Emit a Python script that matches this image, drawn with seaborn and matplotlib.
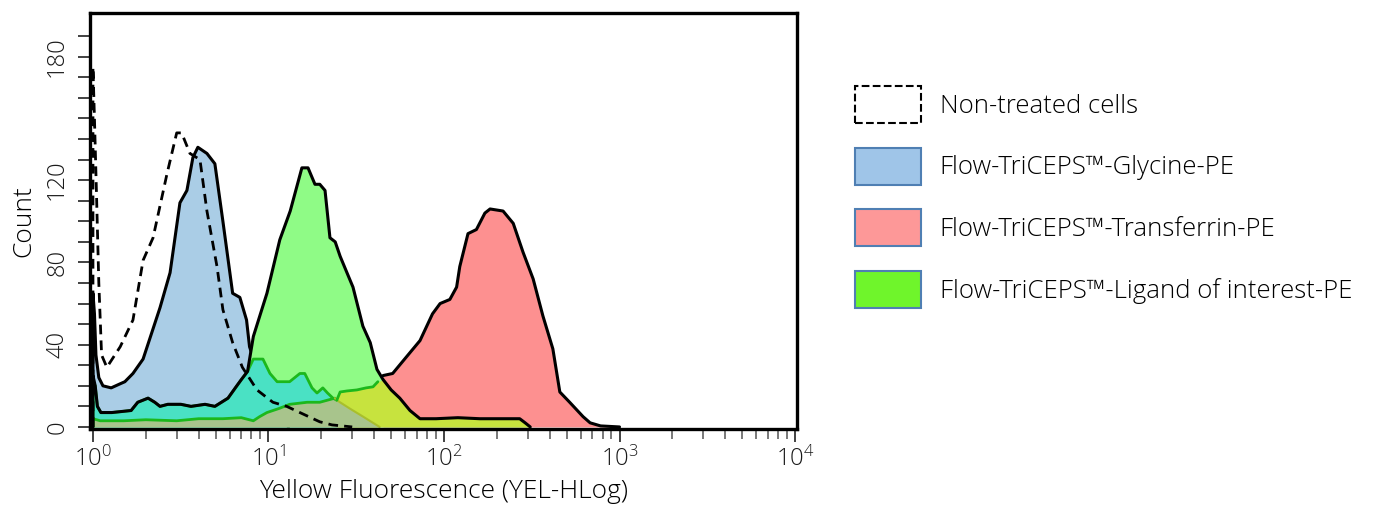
import numpy as np
import matplotlib
matplotlib.use("Agg")
import matplotlib.pyplot as plt
import seaborn as sns
from matplotlib.patches import Patch
from matplotlib.ticker import LogLocator, NullFormatter

# values (x = fluorescence, y = count)
nontreated_x = [1.0, 1.0, 1.02, 1.05, 1.08, 1.12, 1.2, 1.43, 1.69, 1.93, 2.2, 2.64, 3.0, 3.2, 3.57,
                4.07, 4.46, 5.09, 5.5, 6.25, 7.1, 8.6, 10.6, 12.7, 15.1, 19.6, 23, 30]
nontreated_y = [0, 175, 150, 110, 70, 35, 29, 39, 52, 81, 92, 123, 143, 143, 133,
                130, 105, 78, 57, 41, 29, 18, 12, 10, 7, 2.5, 1, 0]

glycine_x = [1.0, 1.0, 1.02, 1.04, 1.08, 1.14, 1.27, 1.43, 1.52, 1.69, 1.93, 2.41, 2.75, 3.13, 3.43,
             3.71, 3.96, 4.46, 4.95, 5.5, 6.25, 6.87, 7.5, 7.8, 8.6, 9.8, 11.5, 13.0]
glycine_y = [0, 65, 55, 35, 24, 20, 19, 21, 22, 26, 33, 58, 75, 109, 115,
             131, 136, 133, 128, 100, 65, 63, 52, 39, 28, 16, 5, 0]

ligand_x = [1.0, 1.0, 1.03, 1.06, 1.11, 1.28, 1.65, 1.80, 2.06, 2.25, 2.41, 2.67, 3.17, 3.62, 4.35,
            4.95, 5.88, 6.6, 7.0, 7.6, 8.2, 9.0, 9.8, 11.6, 13.3, 15.5, 16.8, 18.4, 19.6, 21.0,
            22.4, 24.0, 25.6, 28, 30.3, 34.5, 38, 41.5, 45, 50, 56, 64, 73, 90, 120, 160, 200,
            270, 290, 310]
ligand_y = [0, 25, 20, 10, 7, 7, 8, 12, 14, 12, 10, 11, 11, 10, 11,
            10, 14, 20, 23, 27, 44, 55, 65, 91, 105, 126, 126, 118, 118, 115,
            92, 90, 83, 75, 68, 49, 41, 28, 23, 18, 14, 8, 4, 4, 4.5, 4, 4,
            4, 2, 0]

transferrin_x = [45, 51, 61, 73, 86, 95, 108, 118, 123, 137, 153, 171, 183, 217, 248, 282, 322,
                 366, 417, 457, 520, 620, 680, 780, 1000]
transferrin_y = [25, 26, 34, 42, 55, 60, 62, 68, 78, 94, 96, 104, 106, 105, 99, 85, 72,
                 54, 38, 17, 12, 5, 2, 0.5, 0]

# low-level populations outlined in green
teal_x = [1.0, 1.0, 1.03, 1.06, 1.11, 1.28, 1.65, 1.80, 2.06, 2.25, 2.41, 2.67, 3.17, 3.62, 4.35,
          4.95, 5.88, 6.6, 7.0, 7.6, 8.2, 9.3, 10.2, 11.2, 13.2, 15.1, 16.1, 17.7, 18.9, 20.4,
          21.7, 23.3, 24.5]
teal_y = [0, 22, 20, 10, 7, 7, 8, 12, 14, 12, 10, 11, 11, 10, 11,
          10, 14, 20, 23, 27, 33, 33, 26, 22, 22, 26, 26, 19, 16.5, 19,
          16.5, 14, 13]

olive_x = [1.0, 1.0, 1.1, 1.5, 2.0, 3.0, 4.0, 5.5, 7.0, 8.2, 8.9, 9.8, 11.5, 13.2, 16.6, 19.6,
           23.9, 24.5, 29, 34.6, 39.4, 43]
olive_y = [0, 4, 3, 3, 3.5, 3, 4, 4, 4.5, 3, 5, 7, 9, 11, 12, 12,
           14, 13, 9, 5, 2, 0]

yellow_x = [24.5, 25.6, 28, 31.9, 36, 39.4, 42, 45, 50, 56, 64, 73, 90, 120, 160, 200, 270, 290, 310]
yellow_y = [13, 17, 17.5, 18, 19, 19.5, 22, 23, 18, 14, 8, 4, 4, 4.5, 4, 4, 4, 2, 0]

legend_labels = ["Non-treated cells", "Flow-TriCEPS™-Glycine-PE",
                 "Flow-TriCEPS™-Transferrin-PE", "Flow-TriCEPS™-Ligand of interest-PE"]
ytick_vals = list(range(0, 200, 10))
ytick_text = {0: "0", 40: "40", 80: "80", 120: "120", 180: "180"}

sns.set_style("white")
plt.rcParams['font.family'] = ['Open Sans', 'DejaVu Sans']
plt.rcParams['font.weight'] = 'light'
plt.rcParams['axes.labelweight'] = 'light'
plt.rcParams['text.color'] = 'black'
plt.rcParams['axes.labelcolor'] = 'black'

fig = plt.figure(figsize=(13.76, 5.09), dpi=100)
ax = fig.add_axes([90/1376, 1-429/509, 707/1376, 416/509])

blue, red, lgreen = "#aacde6", "#fd9090", "#8ffb86"
teal, yellow, olive, gline = "#4ae1c4", "#c7e33e", "#a8c48c", "#1cb81c"

ax.fill_between(glycine_x, glycine_y, color=blue, lw=0, zorder=1.0)
sns.lineplot(x=glycine_x, y=glycine_y, ax=ax, color="black", lw=2.2, sort=False,
             estimator=None, zorder=1.05)
ax.fill_between(transferrin_x, transferrin_y, color=red, lw=0, zorder=1.1)
ax.fill_between(ligand_x, ligand_y, color=lgreen, lw=0, zorder=1.2)
ax.fill_between(teal_x, teal_y, color=teal, lw=0, zorder=1.3)
ax.fill_between(yellow_x, yellow_y, color=yellow, lw=0, zorder=1.4)
ax.fill_between(olive_x, olive_y, color=olive, lw=0, zorder=1.5)

sns.lineplot(x=teal_x, y=teal_y, ax=ax, color=gline, lw=2, sort=False, estimator=None, zorder=1.6)
sns.lineplot(x=olive_x[:17], y=olive_y[:17], ax=ax, color=gline, lw=2, sort=False,
             estimator=None, zorder=1.6)
sns.lineplot(x=olive_x[16:], y=olive_y[16:], ax=ax, color="#a9bf2c", lw=1.5, sort=False,
             estimator=None, zorder=1.6)
sns.lineplot(x=yellow_x[:7], y=yellow_y[:7], ax=ax, color=gline, lw=2, sort=False,
             estimator=None, zorder=1.6)

sns.lineplot(x=ligand_x, y=ligand_y, ax=ax, color="black", lw=2.2, sort=False,
             estimator=None, zorder=1.7)
sns.lineplot(x=transferrin_x, y=transferrin_y, ax=ax, color="black", lw=2.2, sort=False,
             estimator=None, zorder=1.8)
sns.lineplot(x=nontreated_x, y=nontreated_y, ax=ax, color="black", lw=2, sort=False,
             estimator=None, linestyle=(0, (3.5, 2.2)), zorder=1.9)

ax.set_xscale("log")
ax.set_xlim(0.962, 10260)
ax.set_ylim(-1, 201.3)
ax.xaxis.set_major_locator(LogLocator(base=10, numticks=10))
ax.xaxis.set_minor_locator(LogLocator(base=10, subs=np.arange(2, 10), numticks=50))
ax.xaxis.set_minor_formatter(NullFormatter())
ax.set_yticks(ytick_vals)
ax.set_yticklabels([ytick_text.get(v, "") for v in ytick_vals], rotation=90, va="center")

ax.tick_params(axis="both", which="major", direction="out", length=9, width=1.3,
               color="#333333", labelcolor="#1a1a1a", labelsize=17, bottom=True, left=True)
ax.tick_params(axis="x", which="minor", direction="out", length=7, width=1.1,
               color="#555555", bottom=True)
ax.tick_params(axis="y", pad=6)

for s in ax.spines.values():
    s.set_color("black")
    s.set_linewidth(2.4)

ax.set_xlabel("Yellow Fluorescence (YEL-HLog)", fontsize=19, labelpad=5)
ax.set_ylabel("Count", fontsize=19, labelpad=6)

handles = [Patch(facecolor="white", edgecolor="black", linestyle="--", lw=1.5),
           Patch(facecolor="#9fc5e8", edgecolor="#4f7fb3", lw=1.5),
           Patch(facecolor="#fd9898", edgecolor="#4f7fb3", lw=1.5),
           Patch(facecolor="#6ff52b", edgecolor="#4f7fb3", lw=1.5)]
fig.legend(handles, legend_labels, loc="upper left", bbox_to_anchor=(855/1376, 1-86/509),
           frameon=False, fontsize=18.5, handlelength=2.55, handleheight=1.85,
           labelspacing=0.95, handletextpad=0.75, borderpad=0, borderaxespad=0)

fig.savefig("out.png", dpi=100)
